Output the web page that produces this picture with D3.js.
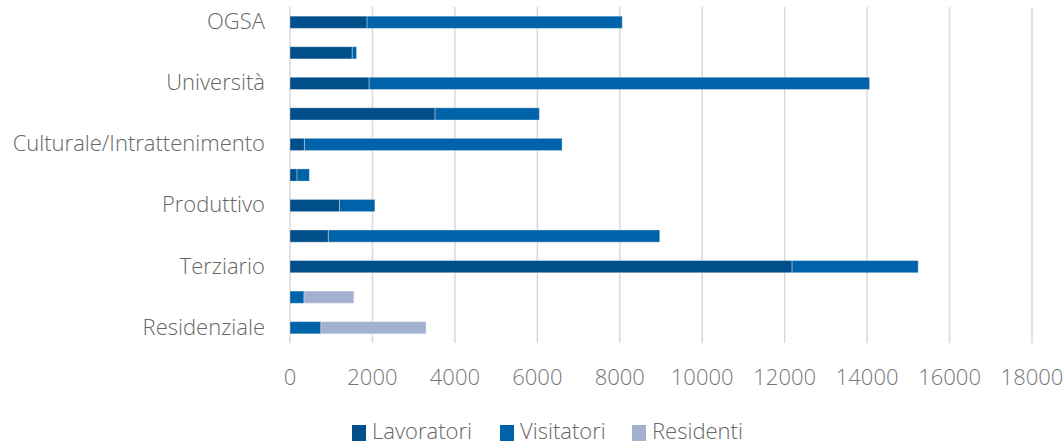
<!DOCTYPE html>
<html>
<head>
<meta charset="utf-8">
<script src="https://cdn.jsdelivr.net/npm/d3@7"></script>
<style>
  body { margin: 0; background: #fff; }
  svg text { font-family: "Open Sans", "Noto Sans", sans-serif; font-weight: 300; }
</style>
</head>
<body>
<div id="container"><svg></svg></div>
<script>
let width = 1063;
let height = 446;

// categorie dall'alto verso il basso (solo una su due ha etichetta)
let categories = ["OGSA", "", "Università", "", "Culturale/Intrattenimento", "", "Produttivo", "", "Terziario", "", "Residenziale"];
let lavoratori = [1870, 1510, 1920, 3520, 350, 170, 1200, 930, 12180, 0, 0];
let visitatori = [6190, 105, 12140, 2530, 6250, 300, 860, 8040, 3060, 340, 750];
let residenti  = [0, 0, 0, 0, 0, 0, 0, 0, 0, 1210, 2550];
let seriesNames = ["Lavoratori", "Visitatori", "Residenti"];
let xTicks = [0, 2000, 4000, 6000, 8000, 10000, 12000, 14000, 16000, 18000];

let colors = ["#004f8b", "#0063a9", "#a3b1d0"];

let rows = categories.map((c, i) => ({
    idx: i,
    Lavoratori: lavoratori[i],
    Visitatori: visitatori[i],
    Residenti: residenti[i]
}));

let svg = d3.select('#container').select('svg')
    .attr('width', width)
    .attr('height', height);

let x = d3.scaleLinear().domain([0, 18000]).range([290, 1032]);
let y = d3.scaleBand()
    .domain(d3.range(categories.length))
    .range([7, 343])
    .paddingInner(0.6)
    .paddingOuter(0.3);

// griglia verticale
svg.append("g")
    .selectAll("line")
    .data(xTicks)
    .join("line")
    .attr("x1", d => x(d))
    .attr("x2", d => x(d))
    .attr("y1", 7)
    .attr("y2", 343)
    .attr("stroke", "#d9d9d9")
    .attr("stroke-width", 1.5);

// etichette asse x
svg.append("g")
    .selectAll("text")
    .data(xTicks)
    .join("text")
    .attr("x", d => x(d))
    .attr("y", 379)
    .attr("text-anchor", "middle")
    .attr("dominant-baseline", "middle")
    .attr("font-size", 22)
    .attr("fill", "#767676")
    .text(d => d);

// etichette categorie
svg.append("g")
    .selectAll("text")
    .data(categories)
    .join("text")
    .attr("x", 265)
    .attr("y", (d, i) => y(i) + y.bandwidth() / 2 + 1)
    .attr("text-anchor", "end")
    .attr("dominant-baseline", "middle")
    .attr("font-size", 22)
    .attr("fill", "#666666")
    .text(d => d);

// barre impilate
let stacked = d3.stack().keys(seriesNames)(rows);

svg.append("g")
    .selectAll("g")
    .data(stacked)
    .join("g")
    .attr("fill", (d, i) => colors[i])
    .selectAll("rect")
    .data(d => d.filter(s => s[1] - s[0] > 0))
    .join("rect")
    .attr("x", d => x(d[0]))
    .attr("y", d => y(d.data.idx))
    .attr("width", d => x(d[1]) - x(d[0]))
    .attr("height", y.bandwidth())
    .attr("stroke", "#ffffff")
    .attr("stroke-opacity", 0.35)
    .attr("stroke-width", 1);

// legenda
let legendX = [352, 500, 632];
let legend = svg.append("g")
    .selectAll("g")
    .data(seriesNames)
    .join("g")
    .attr("transform", (d, i) => `translate(${legendX[i]},433)`);

legend.append("rect")
    .attr("x", 0)
    .attr("y", -8)
    .attr("width", 14)
    .attr("height", 16)
    .attr("fill", (d, i) => colors[i]);

legend.append("text")
    .attr("x", 20)
    .attr("y", 0)
    .attr("dominant-baseline", "middle")
    .attr("font-size", 22)
    .attr("fill", "#666666")
    .text(d => d);
</script>
</body>
</html>
